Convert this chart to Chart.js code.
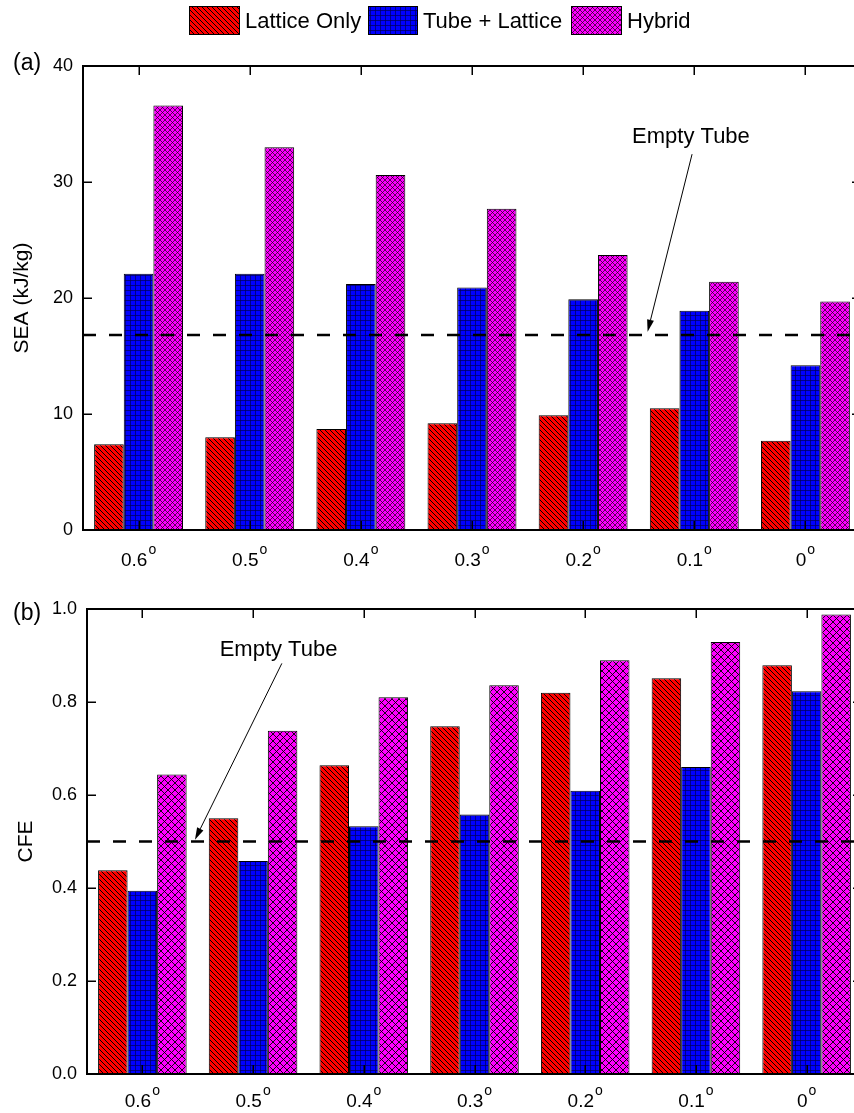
<!DOCTYPE html>
<html>
<head>
<meta charset="utf-8">
<script src="https://cdn.jsdelivr.net/npm/chart.js@4.4.1/dist/chart.umd.min.js"></script>
<style>
  html, body { margin: 0; padding: 0; background: #fff; overflow: hidden; width: 854px; height: 1113px; }
  #wrap { position: relative; width: 854px; height: 1113px; overflow: hidden; }
  canvas { position: absolute; left: 0; }
  #seaChart { top: 0; }
  #cfeChart { top: 580px; }
</style>
</head>
<body>
<div id="wrap">
  <canvas id="seaChart" width="880" height="580"></canvas>
  <canvas id="cfeChart" width="880" height="533"></canvas>
</div>
<script>
// Taper angle categories (degrees)
const categories = ['0.6', '0.5', '0.4', '0.3', '0.2', '0.1', '0'];
const seriesNames = ['Lattice Only', 'Tube + Lattice', 'Hybrid'];

// Specific energy absorption, kJ/kg
const seaLattice = [7.4, 8.0, 8.7, 9.2, 9.9, 10.5, 7.7];
const seaTube    = [22.1, 22.1, 21.2, 20.9, 19.9, 18.9, 14.2];
const seaHybrid  = [36.6, 33.0, 30.6, 27.7, 23.7, 21.4, 19.7];
const seaEmptyTube = 16.8;
const seaTicks = [0, 10, 20, 30, 40];

// Crush force efficiency
const cfeLattice = [0.438, 0.550, 0.664, 0.748, 0.820, 0.851, 0.879];
const cfeTube    = [0.394, 0.458, 0.533, 0.558, 0.609, 0.660, 0.823];
const cfeHybrid  = [0.644, 0.738, 0.810, 0.836, 0.890, 0.929, 0.988];
const cfeEmptyTube = 0.5;
const cfeTicks = [0, 0.2, 0.4, 0.6, 0.8, 1.0];

const FONT = "'Liberation Sans', Arial, Helvetica, sans-serif";
Chart.defaults.font.family = FONT;
Chart.defaults.color = '#000';

// Hatched fills
function makePattern(kind, size, lw, ink) {
  const c = document.createElement('canvas');
  c.width = c.height = size;
  const g = c.getContext('2d');
  g.strokeStyle = ink || '#000';
  g.lineWidth = lw;
  if (kind === 'diag') {
    g.fillStyle = '#ff0000';
    g.fillRect(0, 0, size, size);
    g.beginPath();
    for (const o of [-size, 0, size]) { g.moveTo(o, 0); g.lineTo(o + size, size); }
    g.stroke();
  } else if (kind === 'grid') {
    g.fillStyle = '#0000ff';
    g.fillRect(0, 0, size, size);
    g.beginPath();
    g.moveTo(0.5, 0); g.lineTo(0.5, size);
    g.moveTo(0, 0.5); g.lineTo(size, 0.5);
    g.stroke();
  } else {
    g.fillStyle = '#ff00ff';
    g.fillRect(0, 0, size, size);
    g.beginPath();
    for (const o of [-size, 0, size]) {
      g.moveTo(o, 0); g.lineTo(o + size, size);
      g.moveTo(o, size); g.lineTo(o + size, 0);
    }
    g.stroke();
  }
  return g.createPattern(c, 'repeat');
}

const fillsA = [
  makePattern('diag', 5, 1),
  makePattern('grid', 5, 0.7, '#000055'),
  makePattern('cross', 5, 0.7, '#1a001a')
];
const fillsB = [
  makePattern('diag', 5, 1),
  makePattern('grid', 5, 0.7, '#000055'),
  makePattern('cross', 7, 0.9)
];

// Frame, inward ticks, reference line, category labels, annotation and panel letter
const panelDecor = {
  id: 'panelDecor',
  afterDatasetsDraw(chart, args, o) {
    const { ctx, chartArea: a } = chart;
    const xs = chart.scales.x, ys = chart.scales.y;
    ctx.save();

    // empty tube reference level
    const yRef = ys.getPixelForValue(o.refValue);
    ctx.strokeStyle = '#000';
    ctx.lineWidth = 2.5;
    ctx.setLineDash([13, 13]);
    ctx.beginPath();
    ctx.moveTo(a.left, yRef);
    ctx.lineTo(a.right, yRef);
    ctx.stroke();
    ctx.setLineDash([]);

    // axis frame
    ctx.lineWidth = 2;
    ctx.strokeRect(a.left, a.top, a.right - a.left, a.bottom - a.top);

    // inward tick marks
    ctx.lineWidth = 1.5;
    ctx.beginPath();
    ys.ticks.forEach(t => {
      const py = Math.round(ys.getPixelForValue(t.value)) + 0.25;
      ctx.moveTo(a.left, py); ctx.lineTo(a.left + 9, py);
      ctx.moveTo(a.right, py); ctx.lineTo(a.right - 9, py);
    });
    categories.forEach((c, i) => {
      const px = Math.round(xs.getPixelForTick(i)) + 0.25;
      ctx.moveTo(px, a.bottom); ctx.lineTo(px, a.bottom - 9);
      ctx.moveTo(px, a.top); ctx.lineTo(px, a.top + 9);
    });
    ctx.stroke();

    // category labels with raised degree mark
    ctx.fillStyle = '#000';
    ctx.textBaseline = 'alphabetic';
    ctx.textAlign = 'left';
    categories.forEach((c, i) => {
      const px = xs.getPixelForTick(i);
      ctx.font = '19px ' + FONT;
      const w1 = ctx.measureText(c).width;
      ctx.font = '14px ' + FONT;
      const w2 = ctx.measureText('o').width;
      const x0 = px - (w1 + 1 + w2) / 2;
      const base = a.bottom + o.labelBase;
      ctx.font = '19px ' + FONT;
      ctx.fillText(c, x0, base);
      ctx.font = '14px ' + FONT;
      ctx.fillText('o', x0 + w1 + 1, base - 12);
    });

    // annotation with arrow
    const ann = o.note;
    ctx.font = '22px ' + FONT;
    ctx.textAlign = 'center';
    ctx.fillText(ann.text, xs.getPixelForValue(ann.textAt[0]), ys.getPixelForValue(ann.textAt[1]));
    const x1 = xs.getPixelForValue(ann.from[0]), y1 = ys.getPixelForValue(ann.from[1]);
    const x2 = xs.getPixelForValue(ann.to[0]), y2 = ys.getPixelForValue(ann.to[1]);
    const ang = Math.atan2(y2 - y1, x2 - x1);
    const hl = 12, hw = 3.5;
    const bx = x2 - hl * Math.cos(ang), by = y2 - hl * Math.sin(ang);
    ctx.lineWidth = 1;
    ctx.beginPath();
    ctx.moveTo(x1, y1);
    ctx.lineTo(bx, by);
    ctx.stroke();
    ctx.beginPath();
    ctx.moveTo(x2, y2);
    ctx.lineTo(bx - hw * Math.sin(ang), by + hw * Math.cos(ang));
    ctx.lineTo(bx + hw * Math.sin(ang), by - hw * Math.cos(ang));
    ctx.closePath();
    ctx.fill();

    // panel letter
    ctx.font = '23px ' + FONT;
    ctx.textAlign = 'left';
    ctx.fillText(o.letter, 13, a.top + o.letterBase);

    // series key
    if (o.key) {
      ctx.font = '22px ' + FONT;
      o.key.forEach((k, i) => {
        ctx.fillStyle = chart.data.datasets[i].backgroundColor;
        ctx.fillRect(k.x, 6, k.w, 28);
        ctx.strokeStyle = '#000';
        ctx.lineWidth = 1;
        ctx.strokeRect(k.x + 0.5, 6.5, k.w, 28);
        ctx.fillStyle = '#000';
        ctx.fillText(seriesNames[i], k.x + k.w + 6, 28);
      });
    }
    ctx.restore();
  }
};

function buildPanel(id, cfg) {
  return new Chart(document.getElementById(id), {
    type: 'bar',
    data: {
      labels: categories,
      datasets: cfg.values.map((vals, i) => ({
        label: seriesNames[i],
        data: vals,
        backgroundColor: cfg.fills[i]
      }))
    },
    options: {
      responsive: false,
      animation: false,
      devicePixelRatio: 1,
      layout: { padding: cfg.padding },
      datasets: {
        bar: {
          categoryPercentage: 0.8,
          barPercentage: 1.0,
          borderColor: '#000',
          borderWidth: 1,
          borderSkipped: false
        }
      },
      scales: {
        x: {
          ticks: { display: false },
          grid: { display: false },
          border: { display: false },
          afterFit(s) { s.height = 0; }
        },
        y: {
          min: cfg.ticks[0],
          max: cfg.ticks[cfg.ticks.length - 1],
          afterBuildTicks(s) { s.ticks = cfg.ticks.map(v => ({ value: v })); },
          ticks: {
            padding: 10,
            font: { size: 18 },
            color: '#000',
            callback: cfg.tickFormat
          },
          grid: { display: false, drawTicks: false },
          border: { display: false },
          title: {
            display: true,
            text: cfg.title,
            color: '#000',
            font: { size: 21 },
            padding: { top: cfg.titlePad, bottom: 0 }
          },
          afterFit(s) { s.width = cfg.axisWidth; }
        }
      },
      plugins: {
        legend: { display: false },
        tooltip: { enabled: false },
        panelDecor: cfg.decor
      }
    },
    plugins: [panelDecor]
  });
}

buildPanel('seaChart', {
  values: [seaLattice, seaTube, seaHybrid],
  fills: fillsA,
  ticks: seaTicks,
  tickFormat: v => String(v),
  title: 'SEA (kJ/kg)',
  titlePad: 10,
  axisWidth: 83,
  padding: { top: 66, left: 0, right: 19, bottom: 50 },
  decor: {
    refValue: seaEmptyTube,
    labelBase: 36,
    letter: '(a)',
    letterBase: 4,
    note: { text: 'Empty Tube', textAt: [4.97, 33.4], from: [4.98, 32.4], to: [4.58, 17.1] },
    key: [{ x: 189, w: 50 }, { x: 368, w: 49 }, { x: 571, w: 50 }]
  }
});

buildPanel('cfeChart', {
  values: [cfeLattice, cfeTube, cfeHybrid],
  fills: fillsB,
  ticks: cfeTicks,
  tickFormat: v => Number(v).toFixed(1),
  title: 'CFE',
  titlePad: 14,
  axisWidth: 87,
  padding: { top: 29, left: 0, right: 18, bottom: 39 },
  decor: {
    refValue: cfeEmptyTube,
    labelBase: 33,
    letter: '(b)',
    letterBase: 11,
    note: { text: 'Empty Tube', textAt: [1.23, 0.9], from: [1.26, 0.883], to: [0.475, 0.504] }
  }
});
</script>
</body>
</html>
